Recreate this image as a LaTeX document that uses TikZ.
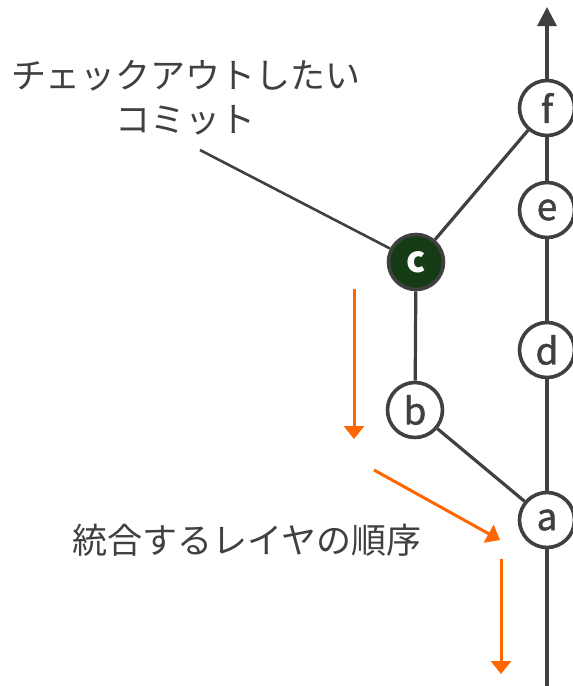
\documentclass[tikz,border=0pt]{standalone}
\usepackage{fontspec}
\setmainfont{Noto Sans CJK JP}
\newfontfamily\letterfont[FakeBold=1.2]{Noto Sans CJK JP}
\usetikzlibrary{arrows.meta}
\definecolor{ink}{RGB}{64,64,64}
\definecolor{accent}{RGB}{255,102,0}
\definecolor{commitgreen}{RGB}{22,60,22}
\tikzset{
  commit/.style={circle, draw=ink, line width=3.6pt, fill=white, minimum size=55pt, inner sep=0pt, text=ink, font=\letterfont\fontsize{37}{37}\selectfont},
  target/.style={commit, fill=commitgreen, text=white, font=\fontsize{36}{36}\selectfont\bfseries},
  edge/.style={draw=ink, line width=3.2pt},
  order/.style={draw=accent, line width=3pt, -{Triangle[length=13pt,width=20pt]}},
  label/.style={text=ink, font=\fontsize{35}{44}\selectfont, align=center, inner sep=0pt}
}
\begin{document}
\begin{tikzpicture}[x=1pt, y=-1pt]
\useasboundingbox (0,0) rectangle (573,686);
% main line end points
\coordinate (bottom) at (547,690);
\coordinate (top) at (547,7);
% commits
\node[commit] (a) at (547,520) {a};
\node[commit] (d) at (547,350) {d};
\node[commit] (e) at (547,210) {e};
\node[commit] (f) at (547,108) {f};
\node[commit] (b) at (415,410) {b};
\node[target] (c) at (416,262) {c};
% main line
\draw[edge] (bottom) -- (a);
\draw[edge] (a) -- (d);
\draw[edge] (d) -- (e);
\draw[edge] (e) -- (f);
\draw[edge, -{Triangle[length=19pt,width=19pt]}] (f) -- (top);
% branch
\draw[edge] (b) -- (a);
\draw[edge] (b) -- (c);
\draw[edge] (c) -- (f);
% label
\node[label] (lbl) at (186,98) {チェックアウトしたい\\コミット};
\coordinate (lblend) at (200,150);
\draw[edge, line width=2.6pt] (lblend) -- (c);
% order arrows
\coordinate (o1s) at (354,289);
\coordinate (o1e) at (354,439);
\coordinate (o2s) at (374,470);
\coordinate (o2e) at (500,540);
\coordinate (o3s) at (501,559);
\coordinate (o3e) at (501,674);
\draw[order] (o1s) -- (o1e);
\draw[order] (o2s) -- (o2e);
\draw[order] (o3s) -- (o3e);
\node[label] (order) at (247,540) {統合するレイヤの順序};
\end{tikzpicture}
\end{document}
